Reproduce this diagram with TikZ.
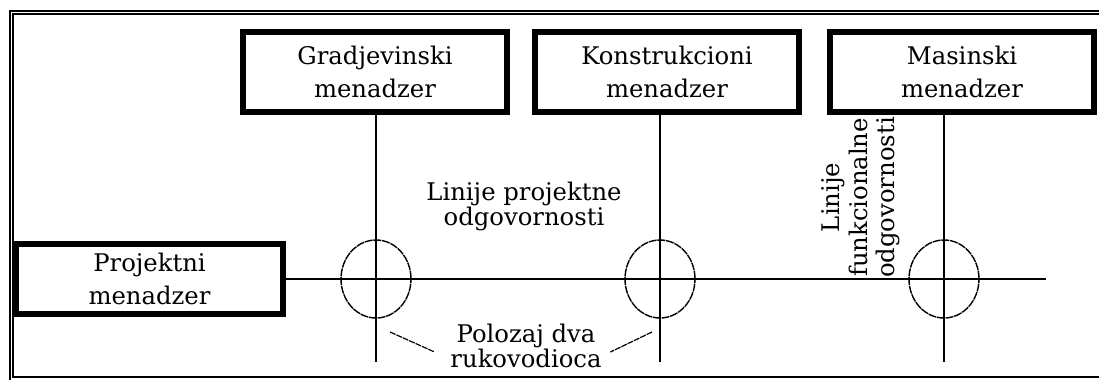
\documentclass[tikz,border=0pt]{standalone}
\usepackage{fontspec}
\setmainfont{DejaVu Serif}
\usetikzlibrary{calc,shapes.geometric}

\begin{document}
\begin{tikzpicture}[x=0.5pt,y=0.5pt,
  box/.style={draw=black, line width=3pt, fill=white, inner sep=0pt,
    minimum width=132pt, minimum height=40pt, align=center,
    font=\fontsize{12.15}{16.5}\selectfont},
  ring/.style={draw=black, ellipse, line width=0.7pt,
    dash pattern=on 4pt off 0.4pt, inner sep=0pt,
    minimum width=35pt, minimum height=39pt},
  note/.style={align=center, inner sep=0pt,
    font=\fontsize{12.15}{12.5}\selectfont},
  leader/.style={line width=0.6pt, dash pattern=on 3pt off 0.5pt}]

% ------------------------------------------------------------------
% Page: 1099 by 380 units, double frame open to the right.
% ------------------------------------------------------------------
\useasboundingbox (0,0) rectangle (1099,380);
\draw[line width=0.7pt] (10,369) rectangle (1130,-20);
\draw[line width=0.7pt] (13,366) rectangle (1130,3);

% Managers.
\node[box] (gm) at (375,308) {Gradjevinski\\menadzer};
\node[box] (km) at (667,308) {Konstrukcioni\\menadzer};
\node[box] (mm) at (962,308) {Masinski\\menadzer};
\node[box, minimum width=133.5pt, minimum height=35pt]
  (pm) at (149.5,101) {Projektni\\menadzer};

% Crossings of the two kinds of lines.
\node[ring] (c1) at (376,101) {};
\node[ring] (c2) at (660,101) {};
\node[ring] (c3) at (944,101) {};
\coordinate (bot) at (0,18);
\coordinate (hend) at (1046,101);

% Lines of responsibility.
\draw[line width=1pt] (pm.east) -- (hend);
\foreach \m/\c in {gm/c1,km/c2,mm/c3}{
  \draw[line width=1pt] (\m.south -| \c) -- (\c |- bot);
}

% Labels.
\node[note] (lp) at (524,174) {Linije projektne\\odgovornosti};
\node[note, rotate=90, font=\fontsize{12.15}{13.75}\selectfont]
  (lf) at (861,182.5) {Linije\\funkcionalne\\odgovornosti};
\node[note] (pd) at (526,34) {Polozaj dva\\rukovodioca};
\coordinate (la) at (390,48);
\coordinate (ra) at (652,48);
\draw[leader] (la) -- ($(pd.west)+(-15.5,-6)$);
\draw[leader] (ra) -- ($(pd.east)+(8.5,-6)$);

\end{tikzpicture}
\end{document}
